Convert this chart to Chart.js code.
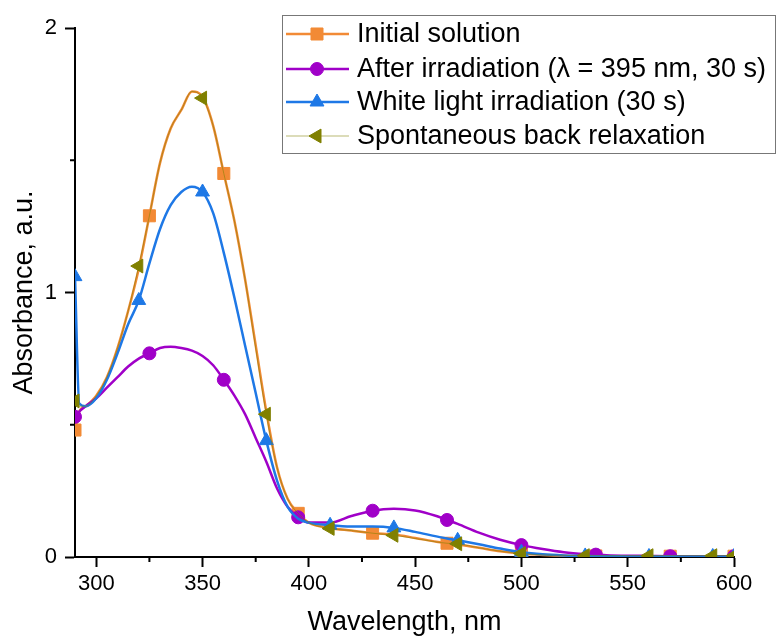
<!DOCTYPE html>
<html>
<head>
<meta charset="utf-8">
<title>Absorbance spectra</title>
<script src="https://cdn.jsdelivr.net/npm/chart.js@4.4.1/dist/chart.umd.min.js"></script>
<style>
    html, body { margin: 0; padding: 0; background: #fff; }
    #wrap { width: 777px; height: 639px; }
</style>
</head>
<body>
<div id="wrap"><canvas id="spectraChart" width="777" height="639"></canvas></div>
<script>
'use strict';

// Wavelength grid, nm
const wavelengths = [290, 292, 295, 300, 305, 310, 315, 320, 325, 330, 335, 340, 345, 350, 355, 360, 365, 370, 375, 380, 385, 390, 395, 400,
    410, 420, 430, 440, 450, 460, 465, 470, 480, 490, 500, 510, 520, 530, 535, 540, 550, 560, 570, 580, 590, 600];

// Absorbance, a.u.
const initialSolution = [0.48, 0.55, 0.57, 0.61, 0.68, 0.79, 0.93, 1.09, 1.29, 1.49, 1.62, 1.69, 1.76, 1.74, 1.63, 1.45, 1.27, 1.05, 0.80, 0.55, 0.34, 0.22, 0.165, 0.13,
    0.11, 0.10, 0.09, 0.085, 0.072, 0.058, 0.052, 0.047, 0.035, 0.022, 0.013, 0.008, 0.005, 0.004, 0.004, 0.003, 0.003, 0.003, 0.003, 0.003, 0.003, 0.003];
const afterIrradiation = [0.53, 0.55, 0.57, 0.60, 0.64, 0.68, 0.72, 0.75, 0.77, 0.79, 0.795, 0.79, 0.78, 0.76, 0.725, 0.67, 0.61, 0.54, 0.45, 0.36, 0.26, 0.19, 0.15, 0.13,
    0.13, 0.155, 0.175, 0.182, 0.176, 0.155, 0.14, 0.125, 0.092, 0.065, 0.045, 0.03, 0.018, 0.011, 0.009, 0.007, 0.005, 0.004, 0.003, 0.003, 0.003, 0.003];
const whiteLight = [1.06, 0.58, 0.57, 0.60, 0.67, 0.77, 0.88, 0.97, 1.11, 1.24, 1.33, 1.38, 1.40, 1.38, 1.30, 1.15, 0.98, 0.80, 0.62, 0.44, 0.29, 0.19, 0.145, 0.13,
    0.12, 0.115, 0.115, 0.11, 0.095, 0.078, 0.07, 0.063, 0.048, 0.032, 0.018, 0.01, 0.006, 0.004, 0.003, 0.003, 0.002, 0.002, 0.002, 0.002, 0.002, 0.002];
const backRelaxation = [0.59, 0.57, 0.57, 0.61, 0.68, 0.79, 0.93, 1.10, 1.29, 1.49, 1.62, 1.69, 1.76, 1.735, 1.63, 1.45, 1.27, 1.05, 0.79, 0.54, 0.34, 0.22, 0.165, 0.13,
    0.108, 0.10, 0.09, 0.082, 0.07, 0.057, 0.052, 0.05, 0.035, 0.022, 0.013, 0.008, 0.006, 0.005, 0.005, 0.005, 0.005, 0.005, 0.005, 0.005, 0.005, 0.005];

// Wavelengths that carry a symbol
const markersEvery35 = [290, 325, 360, 395, 430, 465, 500, 535, 570, 600];
const markersEvery30 = [290, 320, 350, 380, 410, 440, 470, 500, 530, 560, 590, 600];

const seriesLabels = [
    'Initial solution',
    'After irradiation (\u03bb = 395 nm, 30 s)',
    'White light irradiation (30 s)',
    'Spontaneous back relaxation'
];

// Axis ticks
const xTicks = [300, 350, 400, 450, 500, 550, 600];
const xMinorTicks = [325, 375, 425, 475, 525, 575];
const yTicks = [0, 1, 2];
const yMinorTicks = [0.5, 1.5];

(function() {
    const FONT = '"Liberation Sans", Arial, sans-serif';

    const toPoints = (values) => values.map((v, i) => ({ x: wavelengths[i], y: v }));

    const series = [
        { values: initialSolution, markers: markersEvery35, color: '#F28A35', width: 2.5, style: 'rect', radius: 8.5, rotation: 0, order: 3 },
        { values: afterIrradiation, markers: markersEvery35, color: '#A000C8', width: 2.5, style: 'circle', radius: 6.5, rotation: 0, order: 2 },
        { values: whiteLight, markers: markersEvery30, color: '#1E78E6', width: 2.5, style: 'triangle', radius: 8, rotation: 0, order: 1 },
        { values: backRelaxation, markers: markersEvery30, color: '#808000', width: 1, style: 'triangle', radius: 8, rotation: -90, order: 0, lineColor: 'rgba(128,128,0,0.55)' }
    ];

    const datasets = series.map((s, k) => ({
        label: seriesLabels[k],
        data: toPoints(s.values),
        borderColor: s.lineColor || s.color,
        borderWidth: s.width,
        backgroundColor: s.color,
        pointBackgroundColor: s.color,
        pointBorderColor: s.color,
        pointBorderWidth: 1,
        pointStyle: s.style,
        pointRotation: s.rotation,
        pointRadius: (ctx) => s.markers.includes(wavelengths[ctx.dataIndex]) ? s.radius : 0,
        pointHoverRadius: 0,
        cubicInterpolationMode: 'monotone',
        order: s.order,
        legendColor: s.color,
        legendLine: s.lineColor || s.color
    }));

    // Short outward minor ticks on both axes
    const minorTicks = {
        id: 'minorTicks',
        afterDraw(chart) {
            const { ctx, scales: { x, y } } = chart;
            ctx.save();
            ctx.strokeStyle = '#000';
            ctx.lineWidth = 2;
            ctx.beginPath();
            xMinorTicks.forEach((v) => {
                const px = x.getPixelForValue(v);
                ctx.moveTo(px, x.top);
                ctx.lineTo(px, x.top + 5);
            });
            yMinorTicks.forEach((v) => {
                const py = y.getPixelForValue(v);
                ctx.moveTo(y.right, py);
                ctx.lineTo(y.right - 5, py);
            });
            ctx.stroke();
            ctx.restore();
        }
    };

    // Boxed legend with line + symbol samples, top right
    const boxLegend = {
        id: 'boxLegend',
        afterDraw(chart) {
            const ctx = chart.ctx;
            const box = { left: 282, top: 15, right: 776, bottom: 154 };
            const rows = [34, 69, 102, 136];
            ctx.save();
            ctx.fillStyle = '#fff';
            ctx.fillRect(box.left, box.top, box.right - box.left, box.bottom - box.top);
            ctx.strokeStyle = '#777';
            ctx.lineWidth = 1;
            ctx.strokeRect(box.left + 0.5, box.top + 0.5, box.right - box.left - 1, box.bottom - box.top - 1);

            chart.data.datasets.forEach((ds, i) => {
                const y = rows[i];
                const s = series[i];
                ctx.strokeStyle = ds.legendLine;
                ctx.lineWidth = s.width;
                ctx.beginPath();
                ctx.moveTo(286, y);
                ctx.lineTo(349, y);
                ctx.stroke();

                ctx.fillStyle = ds.legendColor;
                ctx.strokeStyle = ds.legendColor;
                ctx.lineWidth = 1;
                Chart.helpers.drawPoint(ctx, {
                    pointStyle: s.style,
                    radius: s.radius,
                    rotation: s.rotation,
                    borderWidth: 1
                }, 317, y);

                ctx.fillStyle = '#000';
                ctx.font = '27px ' + FONT;
                ctx.textBaseline = 'middle';
                ctx.textAlign = 'left';
                ctx.fillText(ds.label, 357, y + 1);
            });
            ctx.restore();
        }
    };

    new Chart(document.getElementById('spectraChart'), {
        type: 'line',
        data: { datasets },
        options: {
            responsive: false,
            animation: false,
            events: [],
            layout: { padding: { left: 0, top: 28, right: 43, bottom: 0 } },
            plugins: {
                legend: { display: false },
                tooltip: { enabled: false }
            },
            scales: {
                x: {
                    type: 'linear',
                    min: 290,
                    max: 600,
                    z: 1,
                    afterBuildTicks: (scale) => { scale.ticks = xTicks.map((v) => ({ value: v })); },
                    afterFit: (scale) => { scale.height = 82; },
                    border: { display: true, color: '#000', width: 2 },
                    grid: { drawOnChartArea: false, drawTicks: true, tickLength: 10, tickColor: '#000', tickWidth: 2 },
                    ticks: { color: '#000', padding: 4, maxRotation: 0, font: { family: FONT, size: 22 } },
                    title: {
                        display: true,
                        text: 'Wavelength, nm',
                        color: '#000',
                        padding: { top: 0, bottom: 0 },
                        font: { family: FONT, size: 27 }
                    }
                },
                y: {
                    min: 0,
                    max: 2,
                    z: 1,
                    afterBuildTicks: (scale) => { scale.ticks = yTicks.map((v) => ({ value: v })); },
                    afterFit: (scale) => { scale.width = 75; },
                    border: { display: true, color: '#000', width: 2 },
                    grid: { drawOnChartArea: false, drawTicks: true, tickLength: 10, tickColor: '#000', tickWidth: 2 },
                    ticks: { color: '#000', padding: 8, font: { family: FONT, size: 22 } },
                    title: {
                        display: true,
                        text: 'Absorbance, a.u.',
                        color: '#000',
                        padding: { top: 8, bottom: 0 },
                        font: { family: FONT, size: 27 }
                    }
                }
            }
        },
        plugins: [minorTicks, boxLegend]
    });
})();
</script>
</body>
</html>
